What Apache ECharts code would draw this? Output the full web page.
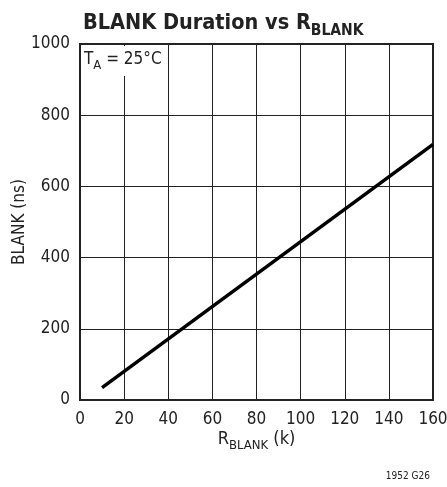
<!DOCTYPE html>
<html>
<head>
<meta charset="utf-8">
<script src="https://cdn.jsdelivr.net/npm/echarts@6/dist/echarts.min.js"></script>
<style>
html,body{margin:0;padding:0;background:#fff;}
#c{width:447px;height:487px;}
</style>
</head>
<body>
<div id="c"></div>
<script>
// Data
var rBlank = [10, 160];          // R_BLANK (k)
var blankNs = [35, 718];         // BLANK duration (ns)
var xTicks = [0, 20, 40, 60, 80, 100, 120, 140, 160];
var yTicks = [0, 200, 400, 600, 800, 1000];

var FONT = '"Liberation Sans Narrow", "DejaVu Sans Condensed", sans-serif';

var lineData = rBlank.map(function (x, i) { return [x, blankNs[i]]; });

var chart = echarts.init(document.getElementById('c'), null, {renderer: 'canvas'});
chart.setOption({
  animation: false,
  backgroundColor: '#fff',
  title: {
    text: '{m|BLANK Duration vs R}{s|BLANK}',
    left: 78,
    top: 3,
    textStyle: {
      rich: {
        m: {fontFamily: FONT, fontWeight: 'bold', fontSize: 21.5, color: '#222', verticalAlign: 'bottom', lineHeight: 26},
        s: {fontFamily: FONT, fontWeight: 'bold', fontSize: 15.5, color: '#222', verticalAlign: 'bottom', lineHeight: 26, padding: [0, 0, -5, 0]}
      }
    }
  },
  grid: {
    left: 80, right: 14, top: 44, bottom: 87,
    containLabel: false,
    outerBoundsMode: 'none',
    show: true, borderColor: '#222', borderWidth: 2, backgroundColor: 'transparent'
  },
  xAxis: {
    type: 'value',
    min: xTicks[0], max: xTicks[xTicks.length - 1], interval: 20,
    axisLine: {show: true, lineStyle: {color: '#222', width: 2}},
    axisTick: {show: false},
    splitLine: {show: true, lineStyle: {color: '#222', width: 1}},
    axisLabel: {fontFamily: FONT, fontSize: 17, color: '#222', margin: 11, formatter: function (v) { return String(v); }},
    name: '{r|R}{s|BLANK}{r| (k)}',
    nameLocation: 'middle',
    nameGap: 26,
    nameMoveOverlap: false,
    nameTextStyle: {
      rich: {
        r: {fontFamily: FONT, fontSize: 18, color: '#222', verticalAlign: 'bottom', lineHeight: 22},
        s: {fontFamily: FONT, fontSize: 13, color: '#222', verticalAlign: 'bottom', lineHeight: 22, padding: [0, 0, -4, 0]}
      }
    }
  },
  yAxis: {
    type: 'value',
    min: yTicks[0], max: yTicks[yTicks.length - 1], interval: 200,
    axisLine: {show: true, lineStyle: {color: '#222', width: 2}},
    axisTick: {show: false},
    splitLine: {show: true, lineStyle: {color: '#222', width: 1}},
    axisLabel: {fontFamily: FONT, fontSize: 17, color: '#222', margin: 10, formatter: function (v) { return String(v); }},
    name: 'BLANK (ns)',
    nameLocation: 'middle',
    nameGap: 52,
    nameRotate: 90,
    nameMoveOverlap: false,
    nameTextStyle: {fontFamily: FONT, fontSize: 17, color: '#222'}
  },
  series: [{
    type: 'line',
    data: lineData,
    symbol: 'none',
    lineStyle: {color: '#000', width: 3.5},
    z: 5
  }],
  graphic: [
    {
      type: 'rect', left: 82, top: 46, z: 10,
      shape: {width: 78, height: 30},
      style: {fill: '#fff'}
    },
    {
      type: 'text', left: 84, top: 51, z: 11,
      style: {
        text: '{r|T}{s|A}{r| = 25°C}',
        rich: {
          r: {fontFamily: FONT, fontSize: 17, fill: '#222', verticalAlign: 'bottom', lineHeight: 20},
          s: {fontFamily: FONT, fontSize: 13, fill: '#222', verticalAlign: 'bottom', lineHeight: 20, padding: [0, 0, -4, 0]}
        }
      }
    },
    {
      type: 'text', right: 17, top: 471, z: 11,
      style: {text: '1952 G26', font: '10px ' + FONT, fill: '#222'}
    }
  ]
});
</script>
</body>
</html>
